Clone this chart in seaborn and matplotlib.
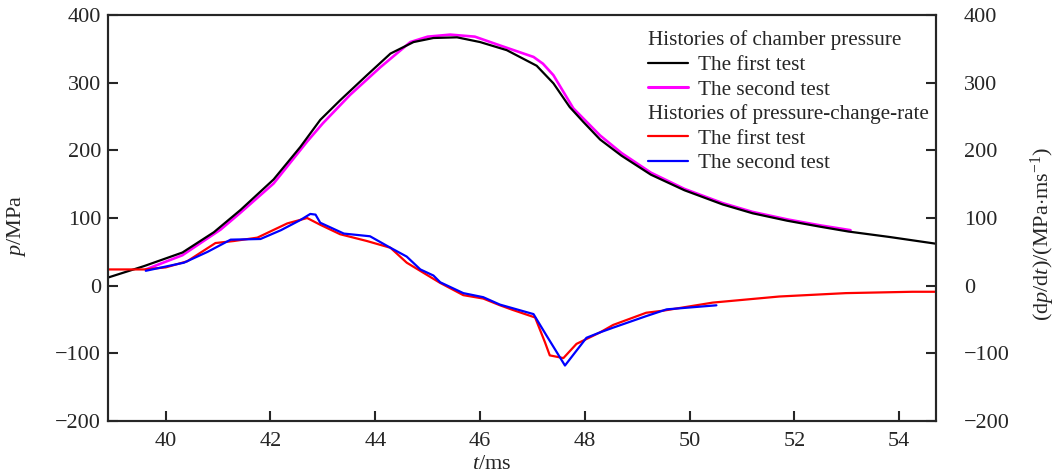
import numpy as np
import matplotlib.pyplot as plt
import seaborn as sns
from matplotlib.lines import Line2D

# chamber pressure, first test (black)
t_p1 = [38.9, 39.59, 40.32, 40.92, 41.43, 42.06, 42.57, 42.95, 43.33, 43.84, 44.29, 44.73,
        45.11, 45.56, 46.0, 46.51, 47.08, 47.40, 47.71, 47.97, 48.29, 48.7, 49.26, 49.9,
        50.63, 51.2, 51.86, 52.5, 53.03, 53.81, 54.7]
p1 = [12, 29, 49, 79, 112, 157, 205, 245, 274, 311, 343, 360,
      366, 367, 360, 348, 325, 299, 264, 242, 216, 192, 164, 141,
      120, 107, 96, 87, 80, 72, 62]

# chamber pressure, second test (magenta)
t_p2 = [39.62, 40.32, 41.05, 41.43, 42.06, 42.7, 43.0, 43.52, 44.1, 44.67, 45.0, 45.43,
        45.9, 46.38, 47.02, 47.2, 47.40, 47.78, 48.29, 48.7, 49.26, 49.9, 50.63, 51.2,
        51.86, 52.5, 53.07]
p2 = [24, 45, 83, 108, 151, 213, 240, 282, 323, 360, 368, 371,
      368, 355, 338, 328, 311, 262, 222, 196, 167, 143, 122, 109,
      98, 89, 82]

# pressure-change-rate, first test (red)
t_r1 = [38.9, 39.59, 40.0, 40.41, 40.95, 41.3, 41.75, 42.32, 42.70, 42.95, 43.33, 43.84,
        44.29, 44.60, 44.92, 45.24, 45.68, 46.06, 46.38, 46.63, 47.05, 47.24, 47.33, 47.59,
        47.84, 48.29, 48.54, 49.17, 49.49, 50.44, 51.71, 52.98, 54.25, 54.7]
r1 = [24, 24, 27, 36, 63, 66, 71, 92, 100, 90, 76, 66,
      56, 34, 19, 4, -14, -19, -29, -36, -47, -84, -103, -107,
      -86, -69, -58, -40, -37, -25, -16, -11, -9, -9]

# pressure-change-rate, second test (blue)
t_r2 = [39.62, 40.35, 40.8, 41.24, 41.81, 42.2, 42.57, 42.76, 42.86, 42.95, 43.40, 43.90,
        44.29, 44.60, 44.86, 45.11, 45.24, 45.68, 46.06, 46.38, 47.02, 47.27, 47.62, 48.03,
        48.29, 48.54, 49.17, 49.56, 50.51]
r2 = [22, 34, 50, 68, 69, 82, 97, 106, 105, 93, 77, 73,
      56, 43, 24, 15, 5, -11, -17, -28, -42, -74, -118, -77,
      -69, -62, -45, -35, -29]

x_ticks = [40, 42, 44, 46, 48, 50, 52, 54]
y_ticks = [-200, -100, 0, 100, 200, 300, 400]

sns.set_style('ticks')
plt.rcParams['font.family'] = ['Liberation Serif', 'DejaVu Serif']
plt.rcParams['mathtext.fontset'] = 'custom'
plt.rcParams['mathtext.rm'] = 'Liberation Serif'
plt.rcParams['mathtext.it'] = 'Liberation Serif:italic'
plt.rcParams['axes.unicode_minus'] = True

fig = plt.figure(figsize=(10.57, 4.76), dpi=100)
ax = fig.add_axes([0.1022, 0.1155, 0.7833, 0.853])
ax2 = ax.twinx()

lw = 1.6
sns.lineplot(x=t_p2, y=p2, ax=ax, color='#ff00ff', lw=lw + 0.3)
sns.lineplot(x=t_p1, y=p1, ax=ax, color='black', lw=lw)
sns.lineplot(x=t_r1, y=r1, ax=ax2, color='#ff0000', lw=lw)
sns.lineplot(x=t_r2, y=r2, ax=ax2, color='#0000ff', lw=lw)

for a in (ax, ax2):
    a.set_xlim(38.9, 54.7)
    a.set_ylim(-200, 400)
    a.set_yticks(y_ticks)
    for s in a.spines.values():
        s.set_linewidth(1.5)
        s.set_visible(True)

ax.set_xticks(x_ticks)
fs = 16
ax.tick_params(axis='both', direction='in', length=7, width=1.5, labelsize=fs, pad=5)
ax.tick_params(axis='x', pad=8, top=False)
ax.tick_params(axis='y', left=True, right=False)
ax2.tick_params(axis='y', direction='in', length=7, width=1.5, labelsize=fs, pad=20)

ax.set_xlabel(r'$t$/ms', fontsize=fs)
ax.xaxis.set_label_coords(0.464, -0.084)
ax.set_ylabel(r'$p$/MPa', fontsize=fs)
ax.yaxis.set_label_coords(-0.097, 0.48)
ax2.set_ylabel(r'(d$p$/d$t$)/(MPa$\cdot$ms$^{-1}$)', fontsize=fs)
ax2.yaxis.set_label_coords(1.112, 0.46)

# legend: two groups with plain-text headers
handles = [
    Line2D([], [], color='black', lw=lw),
    Line2D([], [], color='#ff00ff', lw=lw + 0.6),
    Line2D([], [], color='none'),
    Line2D([], [], color='#ff0000', lw=lw),
    Line2D([], [], color='#0000ff', lw=lw),
]
labels = ['The first test', 'The second test', ' ', 'The first test', 'The second test']
lfs = 15.25
ax2.legend(handles, labels, loc='upper left', bbox_to_anchor=(0.652, 0.900),
           frameon=False, fontsize=lfs, borderpad=0, borderaxespad=0,
           handlelength=1.9, handletextpad=0.45, labelspacing=0.22)
ax2.text(0.652, 0.938, 'Histories of chamber pressure', transform=ax.transAxes,
         fontsize=lfs, va='center', ha='left')
ax2.text(0.652, 0.756, 'Histories of pressure-change-rate', transform=ax.transAxes,
         fontsize=lfs, va='center', ha='left')

fig.savefig('out.png', dpi=100)
